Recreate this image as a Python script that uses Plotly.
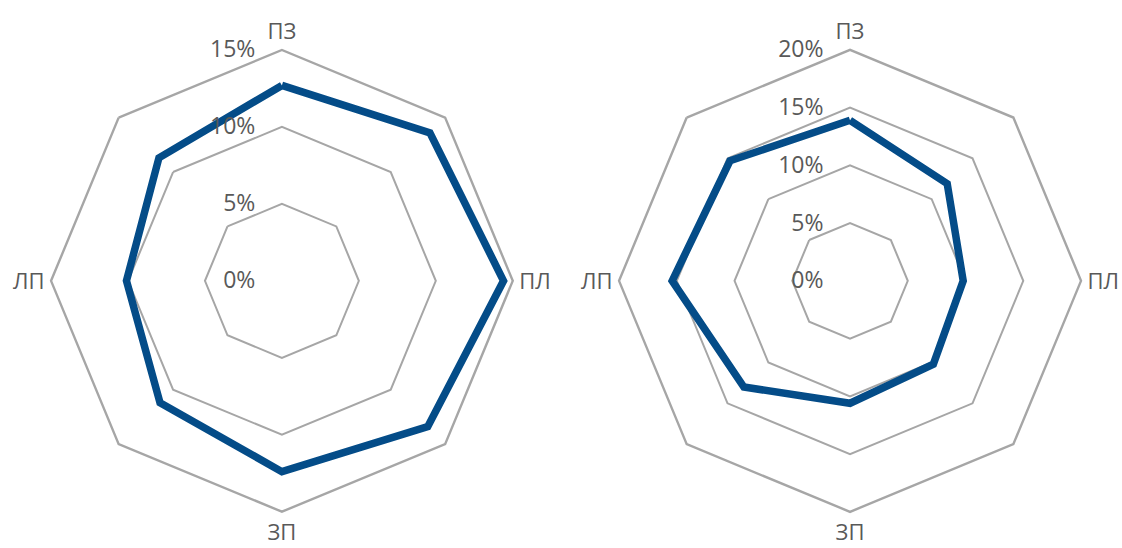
import plotly.graph_objects as go

categories = ["ПЗ", " ", "ПЛ", "  ", "ЗП", "   ", "ЛП", "    "]
left_values = [0.127, 0.136, 0.144, 0.134, 0.124, 0.112, 0.101, 0.113]
right_values = [0.139, 0.119, 0.098, 0.102, 0.106, 0.130, 0.154, 0.147]
left_ticks = [0, 0.05, 0.10, 0.15]
right_ticks = [0, 0.05, 0.10, 0.15, 0.20]

LINE = "#044C88"
GRID = "#A6A6A6"
TEXT = "#595959"
FONT = "Open Sans"

fig = go.Figure()
fig.add_trace(go.Scatterpolar(r=left_values + left_values[:1], theta=categories + categories[:1],
                              mode="lines", line=dict(color=LINE, width=7.5), subplot="polar",
                              showlegend=False, hoverinfo="skip"))
fig.add_trace(go.Scatterpolar(r=right_values + right_values[:1], theta=categories + categories[:1],
                              mode="lines", line=dict(color=LINE, width=7.5), subplot="polar2",
                              showlegend=False, hoverinfo="skip"))

def polar_cfg(domain_x, ticks):
    return dict(
        domain=dict(x=domain_x, y=[0.066, 0.909]),
        gridshape="linear",
        bgcolor="white",
        radialaxis=dict(range=[0, ticks[-1]], tickvals=ticks, tickformat=".0%",
                        angle=90, side="counterclockwise", showline=False,
                        ticks="outside", ticklen=18, tickcolor="rgba(0,0,0,0)",
                        gridcolor=GRID, gridwidth=2.4, tickangle=90,
                        tickfont=dict(family=FONT, size=23, color=TEXT)),
        angularaxis=dict(type="category", rotation=90, direction="clockwise",
                         showgrid=False, showline=True, linecolor=GRID, linewidth=2.4,
                         ticks="outside", ticklen=1, tickcolor="rgba(0,0,0,0)",
                         tickfont=dict(family=FONT, size=22, color=TEXT)),
    )

fig.update_layout(
    width=1122, height=548,
    margin=dict(l=0, r=0, t=0, b=0),
    paper_bgcolor="white",
    polar=polar_cfg([0.0455, 0.457], left_ticks),
    polar2=polar_cfg([0.5517, 0.9635], right_ticks),
    font=dict(family=FONT, color=TEXT),
)
fig.write_html("out.html")
